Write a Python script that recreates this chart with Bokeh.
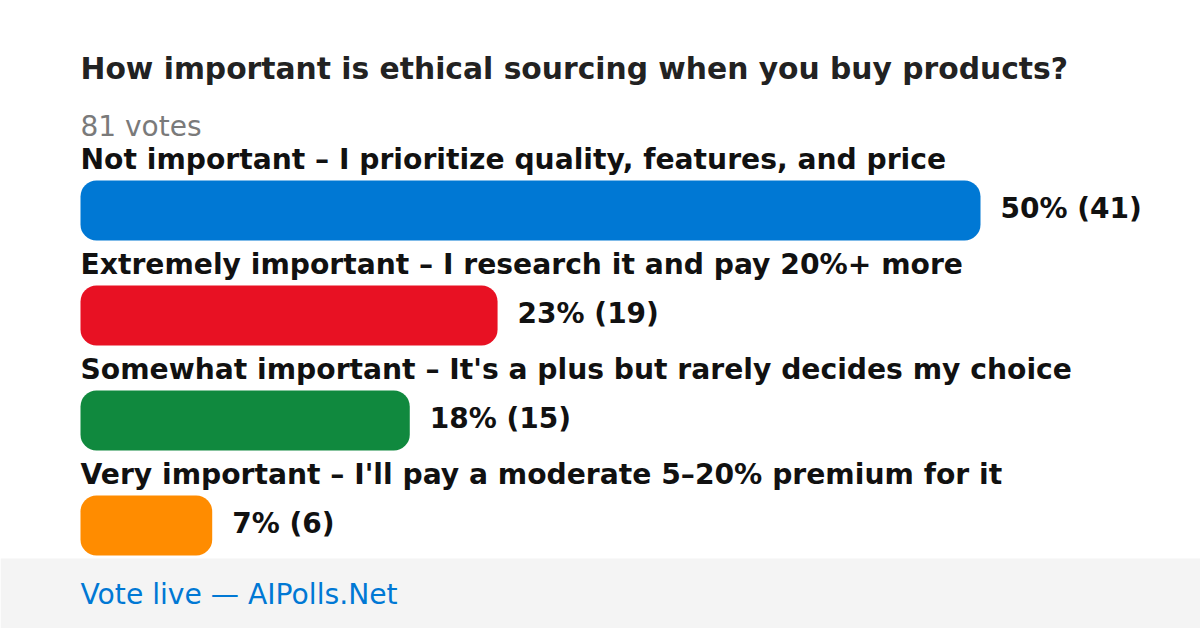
from bokeh.plotting import figure
from bokeh.models import Range1d, ColumnDataSource, BoxAnnotation
from bokeh.core.properties import value
from bokeh.embed import file_html
from bokeh.resources import INLINE

# ---- data ----
title = "How important is ethical sourcing when you buy products?"
total_votes = 81
options = [
    "Not important – I prioritize quality, features, and price",
    "Extremely important – I research it and pay 20%+ more",
    "Somewhat important – It's a plus but rarely decides my choice",
    "Very important – I'll pay a moderate 5–20% premium for it",
]
counts = [41, 19, 15, 6]
percents = [50, 23, 18, 7]
colors = ["#0078d4", "#e81123", "#10893e", "#ff8c00"]
footer = "Vote live — AIPolls.Net"

# ---- layout (pixels) ----
W, H = 1200, 628
left_px = 80          # x pixel of zero count
bar_max_px = 900      # pixel width of the largest bar
row_px = 105          # distance between rows
first_row_px = 210    # y pixel of centre of first bar
bar_h_px = 60
BASE = 0.35           # svg baseline correction (em)

max_c = max(counts)
x_per_px = max_c / bar_max_px
x_start = -left_px * x_per_px
x_end = (W - left_px) * x_per_px

def ry(px):
    return (px - first_row_px) / row_px

def base(px, size):
    return ry(px - BASE * size)

p = figure(width=W, height=H, output_backend="svg", toolbar_location=None,
           x_range=Range1d(x_start, x_end),
           y_range=Range1d(ry(H), ry(0)),
           min_border=0, outline_line_color=None)
p.axis.visible = False
p.grid.visible = False
p.background_fill_color = "white"
p.border_fill_color = "white"

idx = list(range(len(options)))
src = ColumnDataSource(dict(
    y=idx,
    count=counts,
    color=colors,
    label=options,
    label_y=[i + base(169, 28) for i in idx],
    val_y=[i + base(218, 28) for i in idx],
    val=[f"{pc}% ({c})" for pc, c in zip(percents, counts)],
))

p.hbar(y="y", left=0, right="count", height=bar_h_px / row_px, color="color",
       line_color=None, border_radius=16, source=src)

font = value("DejaVu Sans")
p.text(x=0, y="label_y", text="label", source=src, text_font=font,
       text_font_style="bold", text_font_size="28.2px", text_color="#111111",
       text_baseline="alphabetic")
p.text(x="count", y="val_y", text="val", source=src, x_offset=20, text_font=font,
       text_font_style="bold", text_font_size="28px", text_color="#111111",
       text_baseline="alphabetic")

p.text(x=[0], y=[base(78, 29.75)], text=[title], text_font=font, text_font_style="bold",
       text_font_size="29.75px", text_color="#222222", text_baseline="alphabetic")
p.text(x=[0], y=[base(136, 28)], text=[f"{total_votes} votes"], text_font=font,
       text_font_size="28px", text_color="#7a7a7a", text_baseline="alphabetic")

p.add_layout(BoxAnnotation(left=x_start, right=x_end, top=ry(558), bottom=ry(H),
                           fill_color="#f4f4f4", fill_alpha=1, line_color=None,
                           level="underlay"))
p.text(x=[0], y=[base(604, 28.2)], text=[footer], text_font=font, text_font_size="28.2px",
       text_color="#0078d4", text_baseline="alphabetic")

open("out.html", "w").write(file_html(p, INLINE))
